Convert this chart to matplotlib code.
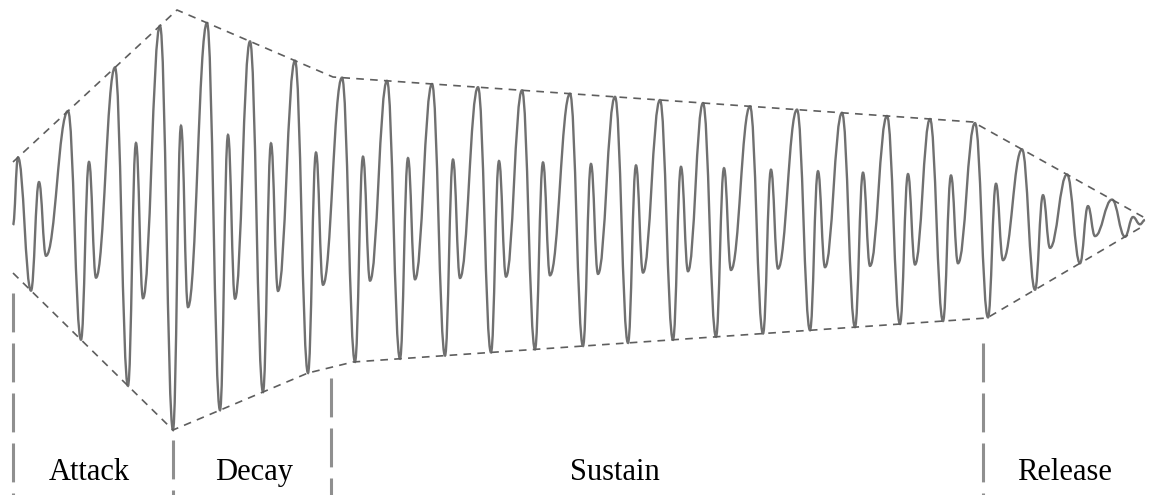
import numpy as np
import matplotlib
matplotlib.use("Agg")
import matplotlib.pyplot as plt
from matplotlib.path import Path
from matplotlib.patches import PathPatch

plt.rcParams['lines.scale_dashes'] = False

# envelope corners, x in pixels, amplitude measured up from the centre line
top_x = [13, 177, 333, 973, 1145]
top_a = [58, 210, 143, 98, 2]
bot_x = [13, 173, 308, 353, 987, 1145]
bot_a = [-53, -210, -153, -142, -98, -5]

# positions of the main peaks of the waveform
peak_x = [18, 68, 115, 160, 207, 250, 295, 342, 387, 432, 478, 522, 570,
          615, 660, 703, 750, 797, 842, 887, 930, 975, 1022, 1067, 1112]

# one cycle after each main peak: offset and level between the envelopes
# (1 = upper envelope, -1 = lower envelope)
cycle_dx = [13, 21, 28]
cycle_lv = [-1, 0.45, -0.43]

wave_start = (13, -5)
wave_end = (1145, 0)

# phase boundaries (vertical dashed lines) and where they start
phase_x = [13, 173, 331, 983]
phase_top = [-73, -220, -158, -123]

labels = ['Attack', 'Decay', 'Sustain', 'Release']
label_x = [89, 254, 615, 1065]


def level(x, lv):
    t = np.interp(x, top_x, top_a)
    b = np.interp(x, bot_x, bot_a)
    return (t + b) / 2 + lv * (t - b) / 2


# extrema of the waveform
ext = [wave_start]
for p in peak_x:
    ext.append((p, level(p, 1)))
    for dx, lv in zip(cycle_dx, cycle_lv):
        if p + dx < wave_end[0]:
            ext.append((p + dx, level(p + dx, lv)))
ext.append(wave_end)

# smooth curve through the extrema, flat at every turning point
verts = [ext[0]]
codes = [Path.MOVETO]
for (x0, y0), (x1, y1) in zip(ext[:-1], ext[1:]):
    d = (x1 - x0) * 0.42
    verts += [(x0 + d, y0), (x1 - d, y1), (x1, y1)]
    codes += [Path.CURVE4] * 3

fig = plt.figure(figsize=(11.49, 4.95), dpi=100)
ax = fig.add_axes([0, 0, 1, 1])
ax.set_xlim(0, 1149)
ax.set_ylim(-275, 220)
ax.axis('off')

ax.add_patch(PathPatch(Path(verts, codes), facecolor='none',
                       edgecolor='#707070', linewidth=1.7))

ax.plot(top_x, top_a, color='#5e5e5e', linewidth=1.2, dashes=(5.5, 4.5))
ax.plot(bot_x, bot_a, color='#5e5e5e', linewidth=1.2, dashes=(5.5, 4.5))

for x, y0 in zip(phase_x, phase_top):
    ax.plot([x, x], [y0, -275], color='#8f8f8f', linewidth=2.2,
            dashes=(28, 8))

for name, x in zip(labels, label_x):
    ax.text(x, -260, name, ha='center', va='baseline', fontsize=22,
            family='Liberation Serif', color='black')

fig.savefig('out.png', dpi=100)
